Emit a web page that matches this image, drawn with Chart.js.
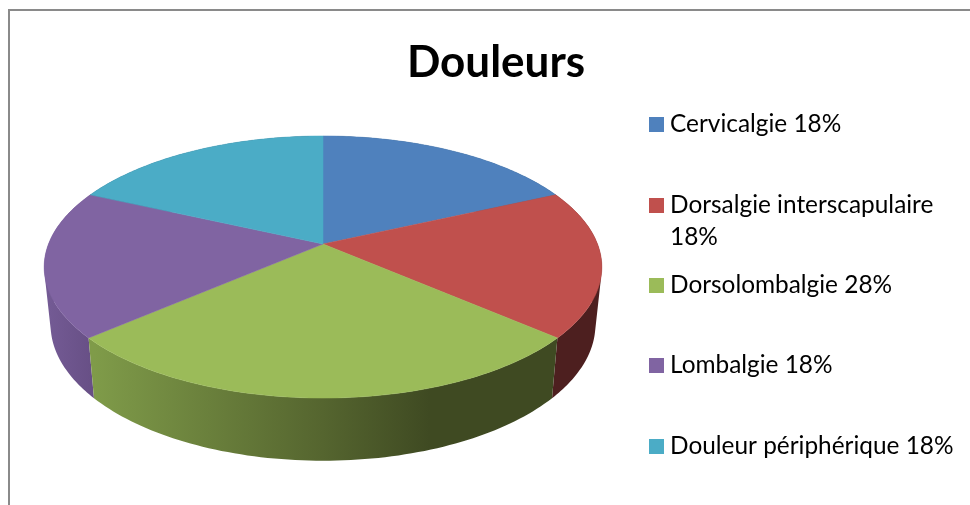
<!DOCTYPE html>
<html>
<head>
<meta charset="utf-8">
<title>Douleurs</title>
<script src="https://cdn.jsdelivr.net/npm/chart.js@4"></script>
<style>
  html, body { margin: 0; padding: 0; background: #fff; overflow: hidden; }
  #wrap { position: relative; width: 970px; height: 505px; }
</style>
</head>
<body>
<div id="wrap"><canvas id="painChart"></canvas></div>
<script>
const categories = ['Cervicalgie', 'Dorsalgie interscapulaire', 'Dorsolombalgie', 'Lombalgie', 'Douleur périphérique'];
// printed percentages from the legend
const percents = [18, 18, 28, 18, 18];
// slice sizes as measured on the drawn pie
const sliceValues = [18.2, 18.2, 27.3, 18.2, 18.2];
const topColors = ['#4f81bd', '#c0504d', '#9bbb59', '#8064a2', '#4bacc6'];

// perspective of the tilted disc
const apexX = 323, apexY = 244, radX = 274.5, radY = 127, tilt = 0.1756;
const depth = 56.5, bottomShrinkX = 0.977, bottomStretchY = 1.04;

function project(angle, isBottom) {
  const x = Math.cos(angle), y = Math.sin(angle);
  const w = 1 - tilt * y;
  return {
    x: apexX + (isBottom ? bottomShrinkX : 1) * radX * x / w,
    y: apexY + (isBottom ? depth : 0) + (isBottom ? bottomStretchY : 1) * radY * y / w
  };
}

function sideFill(ctx, i) {
  if (i === 2) {
    const g = ctx.createLinearGradient(94, 0, 551, 0);
    g.addColorStop(0, '#7f9b49');
    g.addColorStop(0.5, '#55652f');
    g.addColorStop(0.735, '#3f4a22');
    g.addColorStop(1, '#3f4a22');
    return g;
  }
  if (i === 3) {
    const g = ctx.createLinearGradient(46, 0, 94, 0);
    g.addColorStop(0, '#745b95');
    g.addColorStop(1, '#674f85');
    return g;
  }
  if (i === 1) return '#4d1f1f';
  return '#33566f';
}

// adds a quad to the path, always wound the same way so overlaps stay filled
function addQuad(ctx, pts) {
  let area = 0;
  pts.forEach((p, n) => {
    const q = pts[(n + 1) % pts.length];
    area += p.x * q.y - q.x * p.y;
  });
  const list = area < 0 ? pts.slice().reverse() : pts;
  ctx.moveTo(list[0].x, list[0].y);
  list.slice(1).forEach(p => ctx.lineTo(p.x, p.y));
  ctx.closePath();
}

const pie3d = {
  id: 'pie3d',
  beforeDatasetsDraw(chart) {
    const ctx = chart.ctx;
    const arcs = chart.getDatasetMeta(0).data;
    const steps = 80;

    // frame
    ctx.save();
    ctx.strokeStyle = '#8a8a8a';
    ctx.lineWidth = 2;
    ctx.beginPath();
    ctx.moveTo(9, 505);
    ctx.lineTo(9, 10);
    ctx.lineTo(970, 10);
    ctx.stroke();

    // rim as quads in one path, back slices first (the band folds at the silhouette)
    [0, 4, 1, 3, 2].forEach(i => {
      const a = arcs[i];
      ctx.beginPath();
      for (let s = 0; s < steps; s++) {
        const a0 = a.startAngle + (a.endAngle - a.startAngle) * s / steps;
        const a1 = a.startAngle + (a.endAngle - a.startAngle) * (s + 1) / steps;
        addQuad(ctx, [project(a0, false), project(a1, false), project(a1, true), project(a0, true)]);
      }
      ctx.fillStyle = sideFill(ctx, i);
      ctx.fill();
    });

    // top face
    arcs.forEach((a, i) => {
      ctx.beginPath();
      ctx.moveTo(apexX, apexY);
      for (let s = 0; s <= steps; s++) {
        const p = project(a.startAngle + (a.endAngle - a.startAngle) * s / steps, false);
        ctx.lineTo(p.x, p.y);
      }
      ctx.closePath();
      ctx.fillStyle = topColors[i];
      ctx.strokeStyle = topColors[i];
      ctx.lineWidth = 0.5;
      ctx.fill();
      ctx.stroke();
    });
    ctx.restore();
    return false;
  },
  afterDraw(chart) {
    // legend: rows are not evenly spaced because of the wrapped entry
    const ctx = chart.ctx;
    const rowBase = [132, 213, 293, 373, 454];
    ctx.save();
    ctx.font = '24.4px Lato';
    ctx.textBaseline = 'alphabetic';
    categories.forEach((c, i) => {
      ctx.fillStyle = topColors[i];
      ctx.fillRect(649, rowBase[i] - 15, 15, 15);
      ctx.fillStyle = '#000';
      if (i === 1) {
        ctx.fillText(c, 670, rowBase[i]);
        ctx.fillText(percents[i] + '%', 670, rowBase[i] + 32);
      } else {
        ctx.fillText(c + ' ' + percents[i] + '%', 670, rowBase[i]);
      }
    });
    ctx.restore();
  }
};

new Chart(document.getElementById('painChart'), {
  type: 'pie',
  data: {
    labels: categories,
    datasets: [{ data: sliceValues, backgroundColor: topColors, borderWidth: 0 }]
  },
  options: {
    responsive: true,
    maintainAspectRatio: false,
    animation: false,
    layout: { padding: { left: 22 } },
    plugins: {
      legend: { display: false },
      tooltip: { enabled: false },
      title: {
        display: true,
        text: 'Douleurs',
        color: '#000',
        font: { family: 'Lato', size: 44, weight: 'bold' },
        padding: { top: 36, bottom: 10 }
      }
    }
  },
  plugins: [pie3d]
});
</script>
</body>
</html>
